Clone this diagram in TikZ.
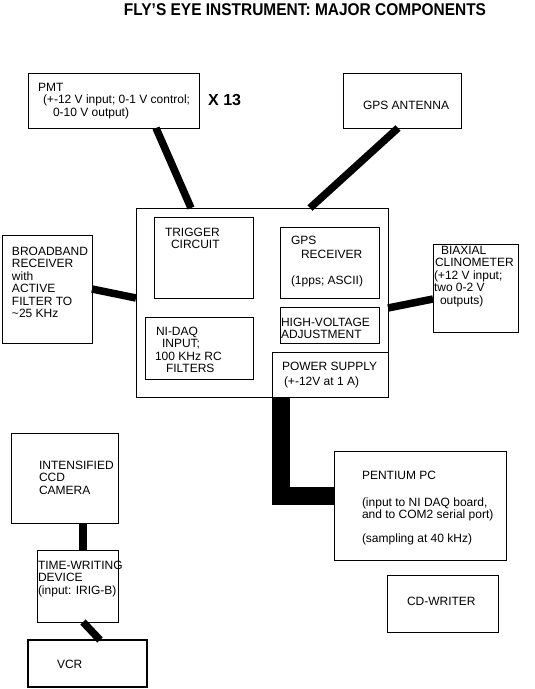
\documentclass[tikz,border=0pt]{standalone}
\usepackage{fontspec}
\usepackage{graphicx}
\setmainfont{Liberation Sans}
\usetikzlibrary{calc}
\newcommand\mkbox[6][]{\node[box,#1,minimum width={#5pt-#3pt},minimum height={#6pt-#4pt}] (#2) at ({(#3+#5)/2},{(#4+#6)/2}) {};}
\newcommand\tl[1]{\begin{tabular}[t]{@{}l@{}}#1\end{tabular}}
\begin{document}
\begin{tikzpicture}[x=1pt,y=-1pt,
  box/.style={draw,line width=1pt,inner sep=0pt,outer sep=0pt},
  wire/.style={line width=7.5pt},
  power/.style={line width=18pt,line join=miter},
  txt/.style={anchor=base west,inner sep=0pt,outer sep=0pt,font=\fontsize{12}{12.5}\selectfont}]
\useasboundingbox (0,0) rectangle (535,689);
\fill[white] (0,0) rectangle (535,689);
% boxes
\mkbox{pmt}{28}{73}{199}{128}
\mkbox{ant}{343}{73}{461}{128}
\mkbox{main}{136}{208}{388}{397}
\mkbox{trig}{154}{217}{253}{298}
\mkbox{gpsr}{280}{227}{379}{298}
\mkbox{hv}{280}{307}{379}{343}
\mkbox{daq}{145}{317}{253}{379}
\mkbox{pwr}{272}{352}{388}{397}
\mkbox{bb}{2}{235}{92}{343}
\mkbox{bia}{433}{244}{518}{332}
\mkbox{pc}{334}{451}{506}{560}
\mkbox{cam}{11}{433}{118}{523}
\mkbox{tw}{37}{550}{118}{622}
\mkbox[line width=2pt]{vcr}{28}{640}{147}{687}
\mkbox{cdw}{387}{575}{498}{632}
% texts
\node[anchor=base,inner sep=0pt,font=\fontsize{17}{17}\selectfont\bfseries] (title) at (305,15) {\scalebox{0.91}[1]{FLY’S EYE INSTRUMENT: MAJOR COMPONENTS}};
\node[txt] (pmtT) at (38,91) {\tl{PMT\\ \hspace*{5pt}(+-12 V input; 0-1 V control;\\ \hspace*{15pt}0-10 V output)}};
\node[anchor=base west,inner sep=0pt,font=\fontsize{16}{16}\selectfont\bfseries] (x13) at (208,105) {X 13};
\node[txt] (antT) at (363,109) {GPS ANTENNA};
\node[txt] (trigT) at (165,236) {\tl{TRIGGER\\ \hspace*{6pt}CIRCUIT}};
\node[txt] (gpsrT) at (291,244) {\tl{GPS\\[1.5pt] \hspace*{10pt}RECEIVER\\[14pt] (1pps; ASCII)}};
\node[txt] (hvT) at (281,326) {\tl{HIGH-VOLTAGE\\ ADJUSTMENT}};
\node[txt] (daqT) at (155,335) {\tl{\hspace*{1pt}NI-DAQ\\ \hspace*{7pt}INPUT;\\ 100 KHz RC\\ \hspace*{11pt}FILTERS}};
\node[txt] (pwrT) at (282,370) {\tl{POWER SUPPLY\\[2.5pt] \hspace*{2pt}(+-12V at 1 A)}};
\node[txt] (bbT) at (12,255) {\tl{BROADBAND\\ RECEIVER\\ with\\ ACTIVE\\ FILTER TO\\ \textasciitilde 25 KHz}};
\node[txt] (biaT) at (434,254) {\tl{\hspace*{7pt}BIAXIAL\\ \hspace*{1pt}CLINOMETER\\ (+12 V input;\\ two 0-2 V\\ \hspace*{6pt}outputs)}};
\node[txt] (pcT) at (362,479) {\tl{PENTIUM PC\\[14.5pt] (input to NI DAQ board,\\ and to COM2 serial port)\\[11.5pt] (sampling at 40 kHz)}};
\node[txt] (camT) at (39,469) {\tl{INTENSIFIED\\ CCD\\ CAMERA}};
\node[txt] (twT) at (38,569) {\tl{TIME-WRITING\\ DEVICE\\ (input: IRIG-B)}};
\node[txt] (vcrT) at (57,668) {VCR};
\node[txt] (cdwT) at (407,605) {CD-WRITER};
% connectors
\draw[wire] ([xshift=128pt]pmt.south west) -- ([xshift=55pt]main.north west);
\draw[wire] ([xshift=55pt]ant.south west) -- ([xshift=174pt]main.north west);
\draw[wire] ([yshift=-54pt]bb.north east) -- ([yshift=-90pt]main.north west);
\draw[wire] ([yshift=-55pt]bia.north west) -- ([yshift=-100pt]main.north east);
\draw[power] ([xshift=9pt]pwr.south west) |- ([yshift=-45pt]pc.north west);
\draw[wire] ([xshift=72pt]cam.south west) -- ([xshift=46pt]tw.north west);
\draw[wire] ([xshift=46pt]tw.south west) -- ([xshift=72pt]vcr.north west);
\end{tikzpicture}
\end{document}
